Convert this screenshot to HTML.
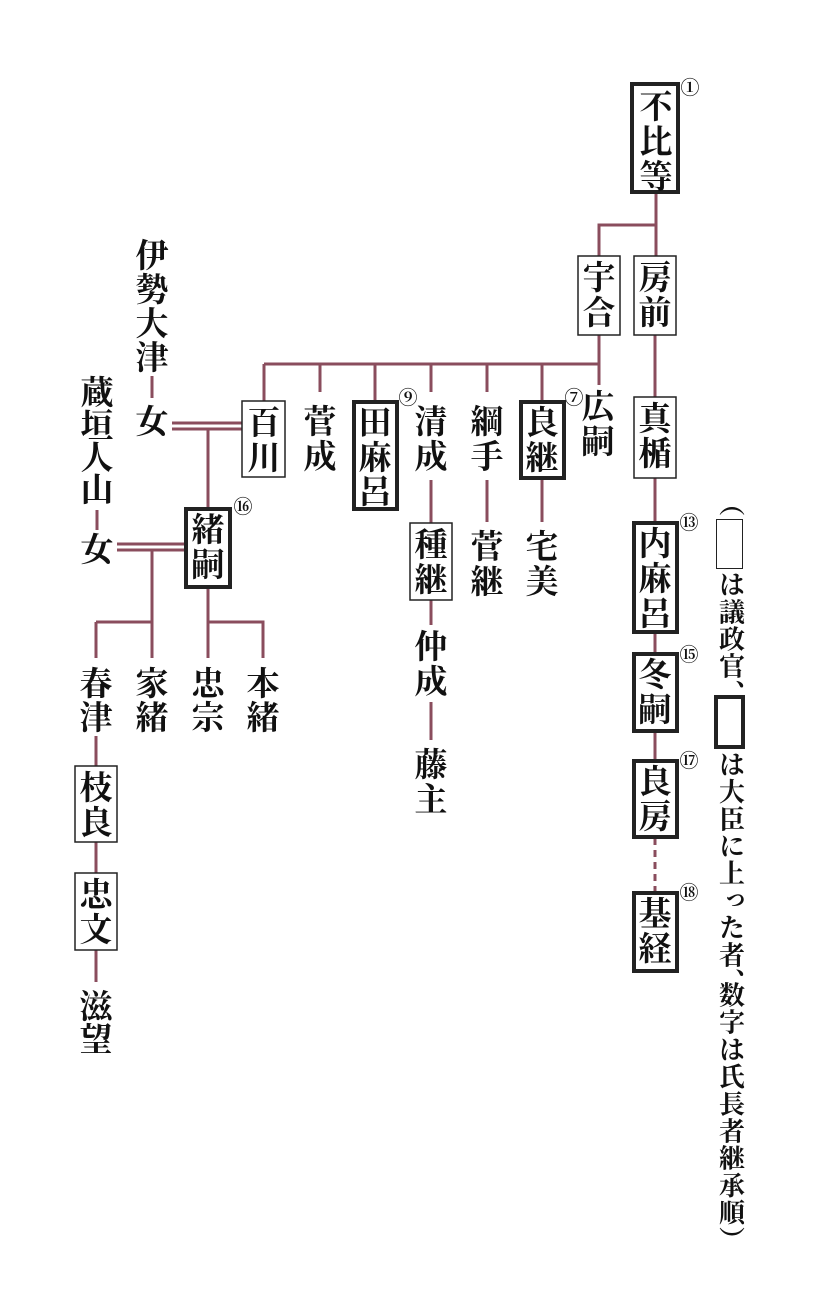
<!DOCTYPE html>
<html><head><meta charset="utf-8"><style>
html,body{margin:0;padding:0;background:#fff;}
body{width:820px;height:1291px;position:relative;overflow:hidden;}
svg{position:absolute;left:0;top:0;}
.t{font-family:"Liberation Serif","Noto Serif CJK JP","Noto Serif CJK SC",serif;font-weight:bold;font-size:33px;fill:#111;text-anchor:middle;}
.n{font-family:"Liberation Serif","Noto Serif CJK JP",serif;font-size:19px;font-weight:bold;fill:#111;text-anchor:middle;}
.leg{position:absolute;left:714px;top:490px;writing-mode:vertical-rl;font-family:"Liberation Serif","Noto Serif CJK JP","Noto Serif CJK SC",serif;font-weight:bold;font-size:26px;line-height:30px;color:#111;letter-spacing:1.2px;}
.c{letter-spacing:-13px;}
.b1{display:inline-block;width:25px;height:48px;border:1.5px solid #222;margin:2px 0;}
.b2{display:inline-block;width:23px;height:46px;border:4px solid #222;margin:2px 0;}
</style></head><body>
<svg width="820" height="1291" viewBox="0 0 820 1291">
<g stroke="#8a4d5d" stroke-width="3" fill="none">
<path d="M656 193V256M656 225H599V256"/>
<path d="M599 335V385M264 364H599M264 364V401M320 364V392M375 364V401M431 364V392M487 364V392M542 364V401"/>
<path d="M655 335V397M655 478V522M655 633V653M655 732V760"/>
<path d="M655 838V892" stroke-dasharray="7,5"/>
<path d="M431 480V523M487 480V522M542 478V522M431 600V625M431 702V740"/>
<path d="M152 376V398M97 510V530"/>
<path d="M172 423H242M172 429H242M208 429V508"/>
<path d="M117 544H185M117 550H185M152 550V658M96 622H152M96 622V658"/>
<path d="M208 588V658M208 622H263V658"/>
<path d="M96 736V766M96 842V873M96 950V982"/>
</g>
<g fill="#fff" stroke="#222">
<rect x="632" y="84" width="46" height="108" stroke-width="4"/>
<rect x="578" y="256" width="42" height="79" stroke-width="1.5"/>
<rect x="634" y="256" width="42" height="79" stroke-width="1.5"/>
<rect x="634" y="397" width="42" height="81" stroke-width="1.5"/>
<rect x="634" y="523" width="43" height="109" stroke-width="4"/>
<rect x="634" y="654" width="43" height="77" stroke-width="4"/>
<rect x="634" y="761" width="43" height="76" stroke-width="4"/>
<rect x="634" y="893" width="43" height="78" stroke-width="4"/>
<rect x="242" y="401" width="43" height="76" stroke-width="1.5"/>
<rect x="354" y="402" width="43" height="107" stroke-width="4"/>
<rect x="521" y="402" width="43" height="76" stroke-width="4"/>
<rect x="410" y="523" width="42" height="77" stroke-width="1.5"/>
<rect x="186" y="509" width="44" height="78" stroke-width="4"/>
<rect x="75" y="766" width="42" height="76" stroke-width="1.5"/>
<rect x="75" y="873" width="42" height="77" stroke-width="1.5"/>
</g>
<g class="t">
<text x="656" y="118">不</text><text x="656" y="153">比</text><text x="656" y="188">等</text>
<text x="599" y="289">宇</text><text x="599" y="324">合</text>
<text x="655" y="289">房</text><text x="655" y="324">前</text>
<text x="655" y="430">真</text><text x="655" y="465">楯</text>
<text x="598" y="418">広</text><text x="598" y="453">嗣</text>
<text x="655" y="555">内</text><text x="655" y="590">麻</text><text x="655" y="625">呂</text>
<text x="655" y="686">冬</text><text x="655" y="721">嗣</text>
<text x="655" y="793">良</text><text x="655" y="828">房</text>
<text x="655" y="925">基</text><text x="655" y="960">経</text>
<text x="264" y="434">百</text><text x="264" y="469">川</text>
<text x="320" y="433">菅</text><text x="320" y="468">成</text>
<text x="375" y="434">田</text><text x="375" y="469">麻</text><text x="375" y="503">呂</text>
<text x="431" y="433">清</text><text x="431" y="468">成</text>
<text x="487" y="433">綱</text><text x="487" y="468">手</text>
<text x="542" y="434">良</text><text x="542" y="469">継</text>
<text x="431" y="556">種</text><text x="431" y="591">継</text>
<text x="487" y="558">菅</text><text x="487" y="593">継</text>
<text x="542" y="558">宅</text><text x="542" y="593">美</text>
<text x="431" y="658">仲</text><text x="431" y="693">成</text>
<text x="431" y="776">藤</text><text x="431" y="811">主</text>
<text x="152" y="267">伊</text><text x="152" y="301">勢</text><text x="152" y="335">大</text><text x="152" y="369">津</text>
<text x="152" y="433">女</text>
<text x="97" y="404">蔵</text><text x="97" y="437">垣</text><text x="97" y="469">人</text><text x="97" y="501">山</text>
<text x="97" y="561">女</text>
<text x="208" y="541">緒</text><text x="208" y="576">嗣</text>
<text x="96" y="695">春</text><text x="96" y="729">津</text>
<text x="152" y="695">家</text><text x="152" y="729">緒</text>
<text x="208" y="695">忠</text><text x="208" y="729">宗</text>
<text x="263" y="695">本</text><text x="263" y="729">緒</text>
<text x="96" y="799">枝</text><text x="96" y="834">良</text>
<text x="96" y="906">忠</text><text x="96" y="941">文</text>
<text x="96" y="1018">滋</text><text x="96" y="1051">望</text>
</g>
<g class="n">
<text x="690" y="94">①</text>
<text x="574" y="404">⑦</text>
<text x="408" y="404">⑨</text>
<text x="243" y="513">⑯</text>
<text x="689" y="529">⑬</text>
<text x="689" y="661">⑮</text>
<text x="689" y="767">⑰</text>
<text x="689" y="899">⑱</text>
</g>
</svg>
<div class="leg">（<span class="b1"></span>は議政官<span class="c">、</span><span class="b2"></span>は大臣に上った者<span class="c">、</span>数字は氏長者継承順）</div>
</body></html>
